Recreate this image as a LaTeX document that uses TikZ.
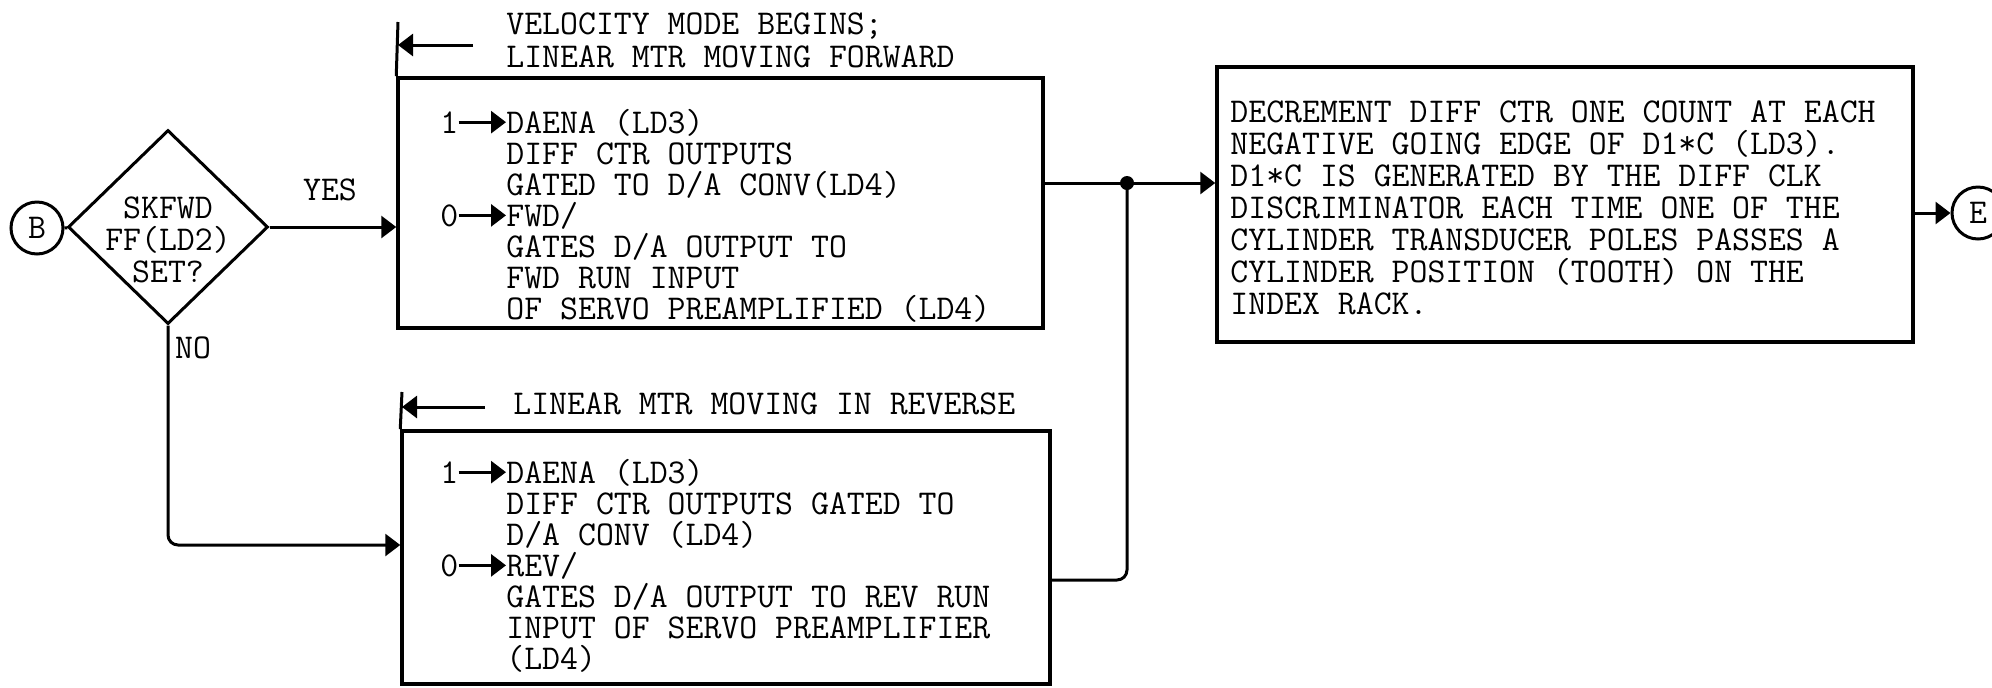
\documentclass[tikz,border=0pt]{standalone}
\usepackage{fontspec}
\usetikzlibrary{arrows.meta, shapes.geometric, fit}

\newcommand{\tyfont}{\fontsize{17.4pt}{16pt}\selectfont\ttfamily}

\tikzset{
  txt/.style={font=\tyfont, inner sep=0pt, anchor=base west},
  lbl/.style={font=\tyfont, inner sep=0pt},
  procbox/.style={draw, line width=1.75pt, inner sep=0pt},
  decision/.style={diamond, draw, line width=1.5pt, minimum width=100pt, minimum height=97pt, inner sep=0pt},
  connector/.style={circle, draw, line width=1.5pt, minimum size=26pt, inner sep=0pt, font=\tyfont},
  link/.style={line width=1.5pt},
  flow/.style={link, -{Triangle[length=7.5pt, width=11pt]}},
}

\begin{document}
\begin{tikzpicture}[x=0.5pt, y=-0.5pt]
    \clip (0,0) rectangle (1992,687);

    % 1. entry B and decision
    \node[connector] (startB) at (37,228) {B};
    \node[decision] (skfwd) at (168,227) {};
    \node[lbl, align=center] (skfwdtxt) at (168,240) {SKFWD\\FF(LD2)\\SET?};
    \draw[link] (startB) -- (skfwd);
    \node[lbl] (yes) at (330,190) {YES};
    \node[lbl] (no) at (193,348) {NO};

    % 2. forward box
    \node[procbox, fit={(398,78) (1043,328)}] (fwdbox) {};
    \coordinate (fwdtop) at (398,22);
    \coordinate (fwdtail) at (473,45);
    \draw[link] (fwdbox.north west) -- (fwdtop);
    \draw[flow] (fwdtail) -- (fwdtop |- fwdtail);
    \node[txt] (fwdhead1) at (506,34) {VELOCITY MODE BEGINS;};
    \node[txt] (fwdhead2) at (506,67) {LINEAR MTR MOVING FORWARD};
    \foreach \tline [count=\k from 0] in {{DAENA (LD3)}, {DIFF CTR OUTPUTS},
        {GATED TO D/A CONV(LD4)}, {FWD/}, {GATES D/A OUTPUT TO},
        {FWD RUN INPUT}, {OF SERVO PREAMPLIFIED (LD4)}}
      \node[txt] (fwd\k) at (506,{133+31*\k}) {\tline};
    \node[txt] (fwdone) at (440,133) {1};
    \node[txt] (fwdzero) at (440,226) {0};
    \draw[flow] (fwdone.east) -- (fwd0.west |- fwdone.east);
    \draw[flow] (fwdzero.east) -- (fwd3.west |- fwdzero.east);

    % 3. reverse box
    \node[procbox, fit={(402,431) (1050,684)}] (revbox) {};
    \coordinate (revtop) at (402,392);
    \coordinate (revtail) at (485,407);
    \draw[link] (revbox.north west) -- (revtop);
    \draw[flow] (revtail) -- (revtop |- revtail);
    \node[txt] (revhead) at (513,414) {LINEAR MTR MOVING IN REVERSE};
    \foreach \tline [count=\k from 0] in {{DAENA (LD3)}, {DIFF CTR OUTPUTS GATED TO},
        {D/A CONV (LD4)}, {REV/}, {GATES D/A OUTPUT TO REV RUN},
        {INPUT OF SERVO PREAMPLIFIER}, {(LD4)}}
      \node[txt] (rev\k) at (506,{483+31*\k}) {\tline};
    \node[txt] (revone) at (440,483) {1};
    \node[txt] (revzero) at (440,576) {0};
    \draw[flow] (revone.east) -- (rev0.west |- revone.east);
    \draw[flow] (revzero.east) -- (rev3.west |- revzero.east);

    % 4. decrement box and exit E
    \node[procbox, fit={(1217,67) (1913,342)}] (decbox) {};
    \foreach \tline [count=\k from 0] in {{DECREMENT DIFF CTR ONE COUNT AT EACH},
        {NEGATIVE GOING EDGE OF D1*C (LD3).}, {D1*C IS GENERATED BY THE DIFF CLK},
        {DISCRIMINATOR EACH TIME ONE OF THE}, {CYLINDER TRANSDUCER POLES PASSES A},
        {CYLINDER POSITION (TOOTH) ON THE}, {INDEX RACK.}}
      \node[txt] (dec\k) at (1230,{122+32*\k}) {\tline};
    \node[connector] (endE) at (1978,213) {E};

    % 5. flow lines
    \coordinate (nocorner) at (168,545);
    \coordinate (join) at (1127,183);
    \coordinate (revjoin) at (1127,580);
    \draw[flow] (skfwd.east) -- (fwdbox.west |- skfwd.east);
    \draw[flow, rounded corners=5pt] (skfwd.south) -- (nocorner) -- (revbox.west |- nocorner);
    \draw[link] (fwdbox.east |- join) -- (join);
    \draw[link, rounded corners=5pt] (revbox.east |- revjoin) -- (revjoin) -- (join);
    \fill (join) circle (7);
    \draw[flow] (join) -- (decbox.west |- join);
    \draw[flow] (decbox.east |- endE) -- (endE);

\end{tikzpicture}
\end{document}
